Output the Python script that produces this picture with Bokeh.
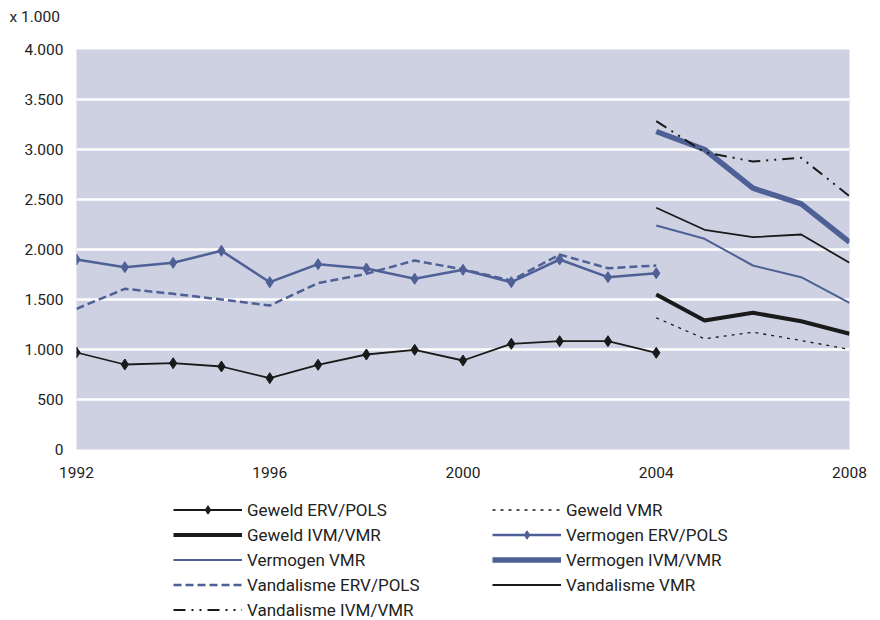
from bokeh.plotting import figure
from bokeh.models import Legend, LegendItem, FixedTicker
from bokeh.layouts import column
from bokeh.embed import file_html
from bokeh.resources import INLINE

years_a = [1992, 1993, 1994, 1995, 1996, 1997, 1998, 1999, 2000, 2001, 2002, 2003, 2004]
years_b = [2004, 2005, 2006, 2007, 2008]

geweld_erv = [970, 850, 863, 830, 713, 847, 950, 997, 890, 1057, 1083, 1083, 967]
vermogen_erv = [1900, 1823, 1867, 1987, 1673, 1853, 1810, 1707, 1797, 1673, 1900, 1723, 1763]
vandalisme_erv = [1407, 1607, 1557, 1500, 1440, 1663, 1757, 1890, 1800, 1690, 1950, 1813, 1840]

geweld_vmr = [1317, 1107, 1173, 1090, 1000]
geweld_ivm = [1550, 1290, 1367, 1283, 1157]
vermogen_vmr = [2240, 2107, 1840, 1723, 1467]
vermogen_ivm = [3180, 3000, 2613, 2457, 2073]
vandalisme_vmr = [2417, 2197, 2123, 2150, 1867]
vandalisme_ivm = [3283, 2973, 2880, 2917, 2533]

y_ticks = [0, 500, 1000, 1500, 2000, 2500, 3000, 3500, 4000]
y_tick_labels = ["0", "500", "1.000", "1.500", "2.000", "2.500", "3.000", "3.500", "4.000"]
x_ticks = [1992, 1996, 2000, 2004, 2008]
unit_label = "x 1.000"

labels_left = ["Geweld ERV/POLS", "Geweld IVM/VMR", "Vermogen VMR",
               "Vandalisme ERV/POLS", "Vandalisme IVM/VMR"]
labels_right = ["Geweld VMR", "Vermogen ERV/POLS", "Vermogen IVM/VMR", "Vandalisme VMR"]

BLUE = "#4e6096"
BLACK = "#1a1a1a"
TEXT = "#222222"
FONT = "Roboto"

styles = {
    "Geweld ERV/POLS": (BLACK, 1.8, "solid", True),
    "Geweld VMR": (BLACK, 1.3, "3 5", False),
    "Geweld IVM/VMR": (BLACK, 4, "solid", False),
    "Vermogen ERV/POLS": (BLUE, 2.5, "solid", True),
    "Vermogen VMR": (BLUE, 2, "solid", False),
    "Vermogen IVM/VMR": (BLUE, 5.5, "solid", False),
    "Vandalisme ERV/POLS": (BLUE, 2.5, "8 4", False),
    "Vandalisme VMR": (BLACK, 1.8, "solid", False),
    "Vandalisme IVM/VMR": (BLACK, 2, "12 6 2 6 2 6", False),
}
series = {
    "Geweld ERV/POLS": (years_a, geweld_erv),
    "Geweld VMR": (years_b, geweld_vmr),
    "Geweld IVM/VMR": (years_b, geweld_ivm),
    "Vermogen ERV/POLS": (years_a, vermogen_erv),
    "Vermogen VMR": (years_b, vermogen_vmr),
    "Vermogen IVM/VMR": (years_b, vermogen_ivm),
    "Vandalisme ERV/POLS": (years_a, vandalisme_erv),
    "Vandalisme VMR": (years_b, vandalisme_vmr),
    "Vandalisme IVM/VMR": (years_b, vandalisme_ivm),
}

# header strip holding the unit label
hd = figure(width=870, height=26, output_backend="svg", toolbar_location=None,
            x_range=(0, 1), y_range=(0, 1), x_axis_location=None, y_axis_location=None,
            min_border_left=76, min_border_right=21, min_border_top=25, min_border_bottom=0)
hd.outline_line_color = None
hd.xgrid.grid_line_color = None
hd.ygrid.grid_line_color = None
hd.background_fill_color = "white"
hd.title.text = unit_label
hd.title.align = "left"
hd.title.vertical_align = "bottom"
hd.title.offset = -67
hd.title.standoff = 0
hd.title.text_font = FONT
hd.title.text_font_size = "15.5px"
hd.title.text_font_style = "normal"
hd.title.text_color = TEXT

p = figure(width=870, height=464, output_backend="svg", toolbar_location=None,
           x_range=(1992, 2008), y_range=(0, 4000),
           min_border_left=76, min_border_right=21, min_border_top=23, min_border_bottom=41)
p.background_fill_color = "#cdd1e2"
p.border_fill_color = "white"
p.outline_line_color = None

p.xgrid.grid_line_color = None
p.ygrid.grid_line_color = "white"
p.ygrid.grid_line_width = 2.5

p.yaxis.ticker = FixedTicker(ticks=y_ticks)
p.yaxis.major_label_overrides = {t: l for t, l in zip(y_ticks, y_tick_labels)}
p.xaxis.ticker = FixedTicker(ticks=x_ticks)
for ax in (p.xaxis, p.yaxis):
    ax.axis_line_color = None
    ax.major_tick_line_color = None
    ax.minor_tick_line_color = None
    ax.major_tick_out = 0
    ax.major_tick_in = 0
    ax.minor_tick_out = 0
    ax.major_label_text_font = FONT
    ax.major_label_text_font_size = "15.5px"
    ax.major_label_text_color = TEXT
p.yaxis.major_label_standoff = 13
p.xaxis.major_label_standoff = 17

for name, (xs, ys) in series.items():
    color, width, dash, marker = styles[name]
    p.line(xs, ys, line_color=color, line_width=width, line_dash=dash)
    if marker:
        p.scatter(xs, ys, marker="diamond", size=11, color=color)

# legend panel: same series drawn out of view, only their legend glyphs show
lg = figure(width=870, height=130, output_backend="svg", toolbar_location=None,
            x_range=(0, 1), y_range=(0, 1), x_axis_location=None, y_axis_location=None,
            min_border_left=76, min_border_right=21, min_border_top=0,
            min_border_bottom=0)
lg.outline_line_color = None
lg.xgrid.grid_line_color = None
lg.ygrid.grid_line_color = None
lg.background_fill_color = "white"


def legend_items(names):
    items = []
    for name in names:
        color, width, dash, marker = styles[name]
        xs, ys = series[name]
        rs = [lg.line(xs, ys, line_color=color, line_width=width, line_dash=dash)]
        if marker:
            rs.append(lg.scatter(xs, ys, marker="diamond", size=8, color=color))
        items.append(LegendItem(label=name, renderers=rs))
    return items


common = dict(border_line_color=None, background_fill_alpha=0,
              glyph_width=69, glyph_height=21, label_height=21,
              spacing=4, label_standoff=5, padding=0, margin=0,
              label_text_font=FONT, label_text_font_size="17px",
              label_text_color=TEXT)
leg1 = Legend(items=legend_items(labels_left), location=(97, 0), **common)
leg2 = Legend(items=legend_items(labels_right), location=(416, 25), **common)
lg.add_layout(leg1, "center")
lg.add_layout(leg2, "center")

layout = column(hd, p, lg, spacing=0)
open("out.html", "w").write(file_html(layout, INLINE))
